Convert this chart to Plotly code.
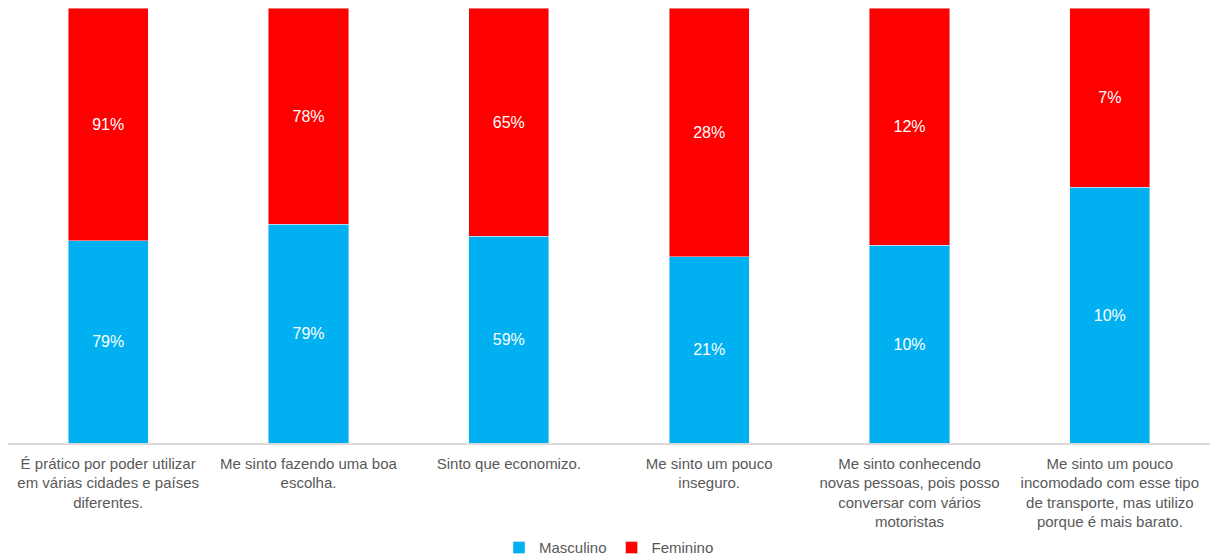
import plotly.graph_objects as go

categories = [
    "É prático por poder utilizar<br>em várias cidades e países<br>diferentes.",
    "Me sinto fazendo uma boa<br>escolha.",
    "Sinto que economizo.",
    "Me sinto um pouco<br>inseguro.",
    "Me sinto conhecendo<br>novas pessoas, pois posso<br>conversar com vários<br>motoristas",
    "Me sinto um pouco<br>incomodado com esse tipo<br>de transporte, mas utilizo<br>porque é mais barato.",
]
masculino = [79, 79, 59, 21, 10, 10]
feminino = [91, 78, 65, 28, 12, 7]

fig = go.Figure()
fig.add_trace(go.Bar(
    name="Masculino", x=categories, y=masculino,
    marker_color="#00B0F0", width=0.4,
    text=[f"{v}%" for v in masculino], textposition="inside",
    insidetextanchor="middle", textfont=dict(color="white", size=16),
    constraintext="none",
))
fig.add_trace(go.Bar(
    name="Feminino", x=categories, y=feminino,
    marker_color="#FF0000", width=0.4,
    text=[f"{v}%" for v in feminino], textposition="inside",
    insidetextanchor="middle", textfont=dict(color="white", size=16),
    constraintext="none",
))
fig.update_layout(
    barmode="stack", barnorm="percent",
    width=1222, height=558,
    margin=dict(l=8, r=12, t=8, b=115, autoexpand=False),
    plot_bgcolor="white", paper_bgcolor="white",
    font=dict(family="Liberation Sans, Arial", size=15, color="#595959"),
    legend=dict(orientation="h", x=0.5, xanchor="center", y=-0.241, yanchor="middle",
                font=dict(size=15, color="#595959"), itemwidth=30,
                traceorder="normal"),
    xaxis=dict(showline=True, linecolor="#D9D9D9", linewidth=1.5,
               ticks="outside", ticklen=6, tickcolor="rgba(0,0,0,0)",
               automargin=False,
               tickfont=dict(size=15, color="#595959")),
    yaxis=dict(visible=False, range=[0, 100], showgrid=False, automargin=False),
)
fig.write_html("out.html")
